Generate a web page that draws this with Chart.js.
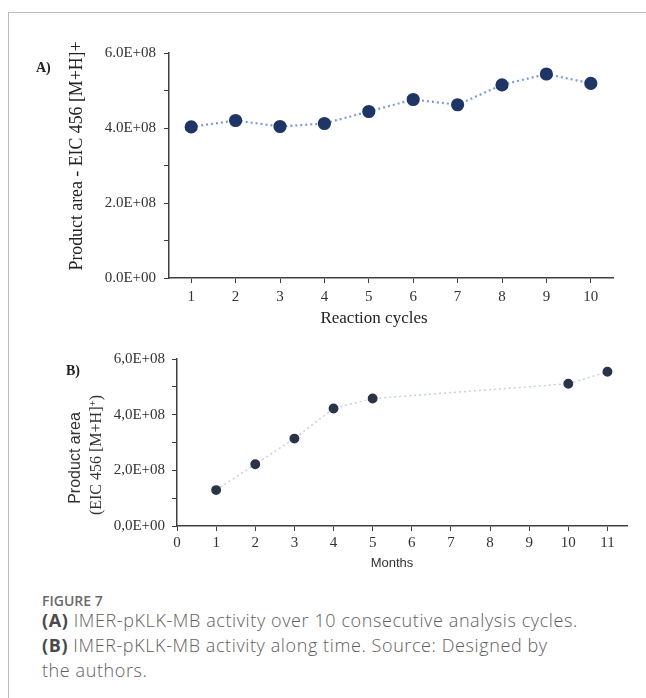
<!DOCTYPE html>
<html>
<head>
<meta charset="utf-8">
<script src="https://cdn.jsdelivr.net/npm/chart.js@4.4.0/dist/chart.umd.min.js"></script>
<style>
  body { margin: 0; background: #fff; }
  #page { position: relative; width: 646px; height: 698px; overflow: hidden; }
  #frame { position: absolute; left: 8px; top: 12px; width: 700px; height: 700px;
           border-top: 1px solid #bdbdbd; border-left: 1px solid #bdbdbd; }
  canvas { position: absolute; left: 0; }
  .t { position: absolute; white-space: nowrap; line-height: 1; color: #222; }
  .rot { transform: translate(-50%, -50%) rotate(-90deg); }
  .ctr { transform: translate(-50%, -50%); }
  .serif { font-family: "Liberation Serif", "DejaVu Serif", serif; }
  .sans { font-family: "Liberation Sans", Arial, sans-serif; }
  #caption { position: absolute; left: 42px; top: 592px; font-family: "Open Sans", Lato, sans-serif;
             color: #5e5e5e; font-weight: 300; font-size: 18px; letter-spacing: 0.6px; line-height: 25px; }
  #caption .fig { font-size: 14px; font-weight: 600; color: #6a6a6a; line-height: 18px; margin-bottom: -2px; letter-spacing: 0; }
  #caption b { font-weight: 700; color: #4a4a4a; }
  sup { font-size: 70%; vertical-align: 0.45em; line-height: 0; }
</style>
</head>
<body>
<div id="page">
  <div id="frame"></div>
  <canvas id="graficoA" width="646" height="300" style="top:30px"></canvas>
  <canvas id="graficoB" width="646" height="240" style="top:340px"></canvas>

  <div class="t serif" style="left:36px; top:61px; font-size:14px; font-weight:bold;">A)</div>
  <div class="t serif rot" style="left:77px; top:156px; font-size:17.8px;">Product area - EIC 456 [M+H]+</div>
  <div class="t serif ctr" style="left:374px; top:317px; font-size:17px;">Reaction cycles</div>

  <div class="t serif" style="left:66px; top:364px; font-size:14px; font-weight:bold;">B)</div>
  <div class="t sans rot" style="left:75px; top:458px; font-size:16px; color:#333;">Product area</div>
  <div class="t serif rot" style="left:96px; top:455px; font-size:16px; color:#333;">(EIC 456 [M+H]<sup>+</sup>)</div>
  <div class="t sans ctr" style="left:392px; top:562px; font-size:13px; color:#333;">Months</div>

  <div id="caption">
    <div class="fig">FIGURE 7</div>
    <div><b>(A)</b> IMER-pKLK-MB activity over 10 consecutive analysis cycles.</div>
    <div><b>(B)</b> IMER-pKLK-MB activity along time. Source: Designed by</div>
    <div>the authors.</div>
  </div>
</div>

<script>
// A) area do produto por ciclo de reação
var ciclos = ['1', '2', '3', '4', '5', '6', '7', '8', '9', '10'];
var areaPorCiclo = [4.03e8, 4.20e8, 4.04e8, 4.12e8, 4.44e8, 4.76e8, 4.62e8, 5.15e8, 5.44e8, 5.19e8];

// B) area do produto ao longo dos meses
var meses = [1, 2, 3, 4, 5, 10, 11];
var areaPorMes = [1.29e8, 2.22e8, 3.14e8, 4.22e8, 4.58e8, 5.11e8, 5.54e8];

var ticksY = [0, 2e8, 4e8, 6e8];

function formataExp(v, sep) {
  if (ticksY.indexOf(v) < 0) return '';
  var s = v.toExponential(1).toUpperCase();   // 6.0E+8
  s = s.replace(/E([+-])(\d)$/, 'E$10$2');
  return s.replace('.', sep);
}

var fonteTick = { family: 'Liberation Serif', size: 15 };
var corEixo = '#404040';

new Chart(document.getElementById('graficoA').getContext('2d'), {
  type: 'line',
  data: {
    labels: ciclos,
    datasets: [{
      data: areaPorCiclo,
      borderColor: '#7d9bd8',
      borderWidth: 2.2,
      borderDash: [2, 3],
      pointBackgroundColor: '#1f3566',
      pointBorderColor: '#1f3566',
      pointRadius: 5.5,
      tension: 0
    }]
  },
  options: {
    responsive: false,
    animation: false,
    devicePixelRatio: 1,
    layout: { padding: { top: 23, right: 33, left: 0, bottom: 0 } },
    plugins: { legend: { display: false }, tooltip: { enabled: false } },
    scales: {
      x: {
        offset: true,
        grid: { offset: false, drawOnChartArea: false, color: corEixo, tickLength: 5 },
        border: { color: corEixo, width: 1.5 },
        ticks: { color: '#333', font: fonteTick, padding: 5, maxRotation: 0 },
        afterFit: function(scale) { scale.height = 52; }
      },
      y: {
        min: 0, max: 6e8,
        grid: { drawOnChartArea: false, color: corEixo, tickLength: 5 },
        border: { color: corEixo, width: 1.5 },
        ticks: { stepSize: 1e8, color: '#333', font: fonteTick, padding: 8,
                 callback: function(v) { return formataExp(v, '.'); } },
        afterFit: function(scale) { scale.width = 169; }
      }
    }
  }
});

var pontosB = meses.map(function(m, i) { return { x: m, y: areaPorMes[i] }; });

new Chart(document.getElementById('graficoB').getContext('2d'), {
  type: 'scatter',
  data: {
    datasets: [{
      data: pontosB,
      showLine: true,
      borderColor: '#c6d0e2',
      borderWidth: 1.5,
      borderDash: [2, 3],
      pointBackgroundColor: '#2a3449',
      pointBorderColor: '#2a3449',
      pointRadius: 4.2
    }]
  },
  options: {
    responsive: false,
    animation: false,
    devicePixelRatio: 1,
    layout: { padding: { top: 19, right: 19, left: 0, bottom: 0 } },
    plugins: { legend: { display: false }, tooltip: { enabled: false } },
    scales: {
      x: {
        type: 'linear', min: 0, max: 11.5,
        grid: { drawOnChartArea: false, color: corEixo, tickLength: 5 },
        border: { color: corEixo, width: 1.5 },
        ticks: { stepSize: 1, includeBounds: false, color: '#333', font: fonteTick, padding: 3, maxRotation: 0 },
        afterFit: function(scale) { scale.height = 54; }
      },
      y: {
        min: 0, max: 6e8,
        grid: { drawOnChartArea: false, color: corEixo, tickLength: 5 },
        border: { color: corEixo, width: 1.5 },
        ticks: { stepSize: 1e8, color: '#333', font: fonteTick, padding: 7,
                 callback: function(v) { return formataExp(v, ','); } },
        afterFit: function(scale) { scale.width = 177; }
      }
    }
  }
});
</script>
</body>
</html>
